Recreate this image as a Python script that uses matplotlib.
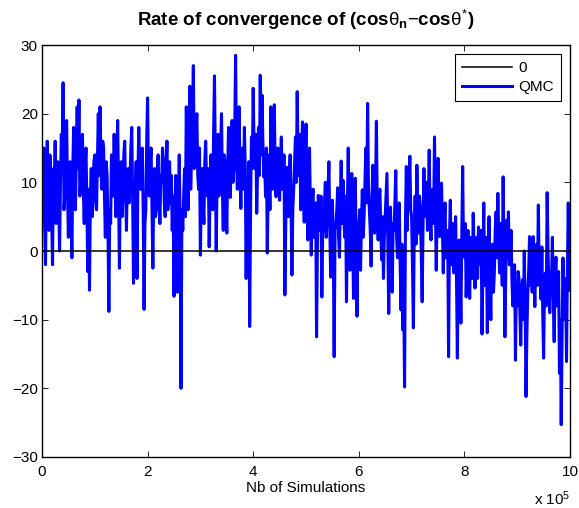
import numpy as np
import matplotlib
matplotlib.use("Agg")
import matplotlib.pyplot as plt
from matplotlib import ticker

plt.rcParams['font.family'] = ['Liberation Sans', 'DejaVu Sans']
plt.rcParams['mathtext.fontset'] = 'custom'
plt.rcParams['mathtext.rm'] = 'Liberation Sans'
plt.rcParams['mathtext.it'] = 'Liberation Sans'
plt.rcParams['mathtext.bf'] = 'Liberation Sans:bold'

# QMC error trace in blocks of 1e5 simulations.
# chunkK holds the visible peaks/dips, midK the band values in between.
chunk0 = [5, 15, -2, 16, 3, 11, -2, 9, 4, 13, 0, 17, 24.5, 8, 19, 2, 13, -1, 18, 6, 21, 22, 10, 17, 4, 15, -3, -5.7, 12, 7]
mid0 = [12, 4, 10, 6, 14, 5, 12, 16, 11, 7, 10, 12, 6, 15, 9, 11, 6, 12, 10, 14, 12, 8, 15, 9, 12, 7, 9, 8, 5, 13]
chunk1 = [14, 6, 20, 21, 9, 15, 2, 11, -8.8, 4, 12, 17, 5, 19, -2.5, 13, 8, 16, 3, 12, 10, 18, -4.7, 7, -4, 18, 9, 15, -8.5, 6]
mid1 = [9, 13, 11, 12, 16, 8, 13, 3, 6, 14, 8, 10, 13, 9, 10, 5, 14, 9, 11, 7, 15, 8, 10, 13, 11, 12, 14, 6, 4, 16]
chunk2 = [22.3, 8, 15, -2.5, 12, 6, 14, 4, 10, 13, 5, 16, 9, 7, 3, -6.6, 11, -6, 14, -20, 3, 12, 21, 6, 24, 15, 27, 13, 20, 9]
mid2 = [10, 13, 6, 9, 5, 12, 8, 11, 15, 7, 12, 6, 13, 11, 8, 5, 2, 7, 4, 6, 8, 5, 11, 16, 9, 19, 12, 18, 11, 15]
chunk3 = [-0.6, 12, 4, 16, 8, 0.6, 14, 6, 25.5, 0, 17, 10, 20, 3, 13, 2.6, 18, 7.8, 19, 12, 28.5, 9, 21, 6.2, 15, 18, -4, 7, -11, 16.6]
mid3 = [9, 7, 13, 10, 12, 9, 10, 17, 12, 11, 8, 15, 9, 14, 8, 12, 9, 14, 10, 17, 14, 16, 11, 14, 9, 12, 10, 13, 6, 12]
chunk4 = [23.7, 12, 5.5, 18, 25.6, 22.7, 10.8, 7.9, -0.3, 14, 21, 9, 21.3, 7.9, 15, 7.4, 16.6, 10, -6.4, 12.2, 5, 14, -3.5, 9, 16.6, 23.2, 11, 6, 18.8, 4.2]
mid4 = [15, 17, 12, 11, 14, 16, 13, 15, 9, 6, 12, 16, 11, 14, 10, 13, 9, 14, 4, 8, 11, 7, 6, 13, 10, 14, 17, 13, 9, 12]
chunk5 = [18.5, 1.6, 15, -0.6, 9, 4, -12.5, 8.1, 3, -6.7, 2.8, 10, 5, 13, -3.8, 7.4, -15.4, 4, 9.2, -0.9, 13.1, 10.3, 2, -7.4, 15, -2.8, 11.3, -6.9, 10.6, -9.5]
mid5 = [8, 10, 6, 7, 2, 7, 1, 4, 8, 3, 7, 2, 9, 4, 5, 1, 3, 6, 2, 7, 4, 5, 8, 6, 3, 6, 2, 5, 1, 4]
chunk6 = [3.5, -2.8, 8.9, 5, 15, 21.5, 6, -2.2, 12.5, 2.6, 18.9, 1.6, 9, -1.3, -4, 5, 11.3, -9.1, 6.4, -6, 3, 11.7, -1, 7, -8.6, -11.5, -19.8, 12.3, 8.4, 13.8]
mid6 = [6, 4, 2, 10, 7, 9, 3, 8, 5, 9, 6, 8, 3, 5, 2, 8, 1, 3, -1, 4, 7, 2, 5, -2, 1, -6, 4, 3, 10, 6]
chunk7 = [5, -11.2, 8, 12.5, 2.6, 6, -7.4, 12, 6, 3, 14.7, 1.6, 9, 16.6, -2.8, 13.5, 2.1, 9.9, -3.2, 7, 1, -15.4, 7.4, 0, -3.2, 5, -15.6, 1.6, -10.5, 12.3]
mid7 = [-2, 3, 1, 5, 8, -1, 4, 5, 10, 7, 5, 8, 4, 7, 6, 5, 8, 3, 4, -1, 3, 2, -2, 4, 1, -4, -1, -3, 2, 0]
chunk8 = [-0.9, -6.7, 3, -6.9, 1, 5.5, -5.4, 2, 3.5, -2, -12.1, 7, -2.3, -11.9, 5, -10, 1, -3.2, 5.7, 8.4, -3.2, 2, 10.8, -12.5, 4.5, 5.7, -1, -4.2, -6.7, -15.9]
mid8 = [4, -2, -3, 2, -4, 0, 1, -4, -1, 3, -3, -5, 2, -2, -4, 0, -6, 3, -1, 1, 4, -5, 0, -3, -1, -2, 3, -8, -2, -5]
chunk9 = [-8, -4, -13.7, -4.2, 0, -21.2, -6, 2.1, -0.9, 2.1, -8.1, 1, 6.7, -2, 0.6, -15.6, -3.2, 8.5, -5, -3.2, 2, -13.2, -0.9, -5, -17.8, -25.3, -1, -10, -16.1, 7]
mid9 = [-3, -9, -6, -10, -8, -12, -3, -5, -6, -3, -2, -5, -3, -7, -9, -5, -8, 0, -9, -4, -7, -4, -8, -3, -10, -12, -7, -4, -3, -2]
last_value = [-5.7]

chunks = [chunk0, chunk1, chunk2, chunk3, chunk4, chunk5, chunk6, chunk7, chunk8, chunk9]
mids = [mid0, mid1, mid2, mid3, mid4, mid5, mid6, mid7, mid8, mid9]
qmc = np.concatenate([np.column_stack((c, m)).ravel() for c, m in zip(chunks, mids)] + [last_value])
n_sim = np.linspace(0, 1e6, len(qmc))
zero_x = [0, 1e6]
zero_y = [0, 0]

fig = plt.figure(figsize=(5.79, 5.08), dpi=100)
ax = fig.add_axes([0.0725, 0.1004, 0.912, 0.811])

ax.plot(zero_x, zero_y, color='black', lw=1.1, label='0', zorder=3)
ax.plot(n_sim, qmc, color='#0000ff', lw=2.2, label='QMC', zorder=2)

ax.set_xlim(0, 1e6)
ax.set_ylim(-30, 30)
ax.set_xticks(np.arange(0, 1e6 + 1, 2e5))
ax.set_yticks(np.arange(-30, 31, 10))
ax.xaxis.set_major_formatter(ticker.FuncFormatter(lambda v, p: f"{v/1e5:g}"))
ax.tick_params(direction='in', top=True, right=True, length=4, width=0.6,
               labelsize=11)
ax.tick_params(axis='x', pad=6)
ax.tick_params(axis='y', pad=3)
for s in ax.spines.values():
    s.set_linewidth(1.0)

ax.set_xlabel('Nb of Simulations', fontsize=11, labelpad=1)
ax.text(1.0, -0.078, r'x 10$^5$', transform=ax.transAxes, ha='right', va='top', fontsize=11)
ax.set_title(r'Rate of convergence of (cos$\theta_{\mathbf{n}}$$-$cos$\theta^{*}$)',
             fontsize=13.5, fontweight='bold', pad=14)

leg = ax.legend(loc='upper right', fontsize=11, fancybox=False, framealpha=1,
                edgecolor='black', handlelength=3.3, borderaxespad=0.6,
                borderpad=0.45, labelspacing=0.35, handletextpad=0.4)
leg.get_frame().set_linewidth(0.8)

plt.savefig('out.png', dpi=100)
